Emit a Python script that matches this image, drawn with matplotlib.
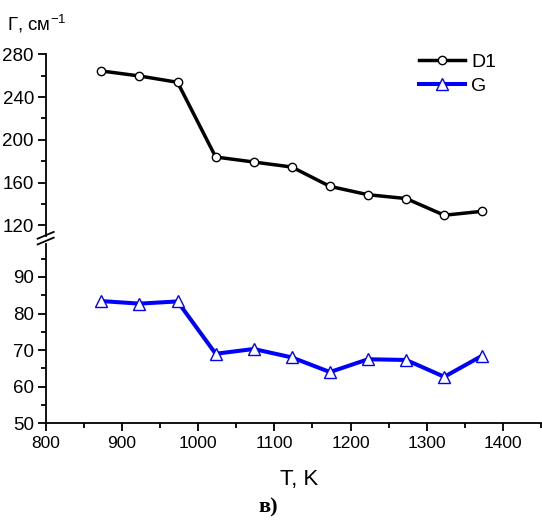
import numpy as np
import matplotlib
matplotlib.use('Agg')
import matplotlib.pyplot as plt
from matplotlib.ticker import MultipleLocator

plt.rcParams['font.family'] = ['Liberation Sans', 'DejaVu Sans']

# temperature, K
T = [873, 923, 973, 1023, 1073, 1123, 1173, 1223, 1273, 1323, 1373]
# band widths, cm^-1
D1 = [264.4, 259.7, 253.8, 183.9, 179.2, 174.5, 156.4, 148.6, 145.0, 129.4, 133.1]
G = [83.4, 82.7, 83.3, 69.0, 70.3, 68.0, 64.0, 67.5, 67.3, 62.7, 68.5]

fig = plt.figure(figsize=(5.42, 5.2), dpi=100)
axTop = fig.add_axes([0.0843, 0.5462, 0.914, 0.3494])
axBot = fig.add_axes([0.0843, 0.186, 0.914, 0.3448])

lD1, = axTop.plot(T, D1, '-o', color='black', lw=2.5, ms=6, mfc='white',
                  mec='black', mew=1.0, label='D1')
lG, = axBot.plot(T, G, '-^', color='#0000ff', lw=2.9, ms=8, mfc='white',
                 mec='#0000ff', mew=1.0, label='G')

for ax in (axTop, axBot):
    ax.set_xlim(800, 1450)
    ax.spines['top'].set_visible(False)
    ax.spines['right'].set_visible(False)
    ax.spines['left'].set_linewidth(1.3)
    ax.spines['bottom'].set_linewidth(1.3)
    ax.tick_params(which='major', direction='out', length=6, width=1.3, labelsize=12.5)
    ax.tick_params(axis='y', labelsize=13.5, pad=2.5)
    ax.tick_params(which='minor', direction='out', length=3.5, width=1.3)

axTop.set_ylim(110, 280)
axTop.yaxis.set_major_locator(MultipleLocator(40))
axTop.yaxis.set_minor_locator(MultipleLocator(20))
axTop.spines['bottom'].set_visible(False)
axTop.tick_params(axis='x', which='both', bottom=False, labelbottom=False)

axBot.set_ylim(50, 99)
axBot.yaxis.set_major_locator(MultipleLocator(10))
axBot.yaxis.set_minor_locator(MultipleLocator(5))
axBot.xaxis.set_major_locator(MultipleLocator(100))
axBot.xaxis.set_minor_locator(MultipleLocator(50))

# axis break marks
x0 = 0.0843
for yc in (0.5475, 0.5365):
    fig.add_artist(plt.Line2D([x0 - 0.0148, x0 + 0.0148], [yc - 0.0065, yc + 0.0065],
                              color='black', lw=1.3, transform=fig.transFigure))

fig.text(0.013, 0.955, 'Г, см$^{\\mathregular{-1}}$', fontsize=13.5, ha='left', va='center')
fig.text(0.552, 0.077, 'T, K', fontsize=16, ha='center', va='center')
fig.text(0.495, 0.025, 'в)', fontsize=16, ha='center', va='center',
         family='Liberation Serif', weight='bold')

fig.legend(handles=[lD1, lG], loc='upper left', bbox_to_anchor=(0.758, 0.912),
           frameon=False, fontsize=14, handlelength=2.4, handletextpad=0.3,
           labelspacing=0.3, borderaxespad=0)

fig.savefig('out.png', dpi=100)
